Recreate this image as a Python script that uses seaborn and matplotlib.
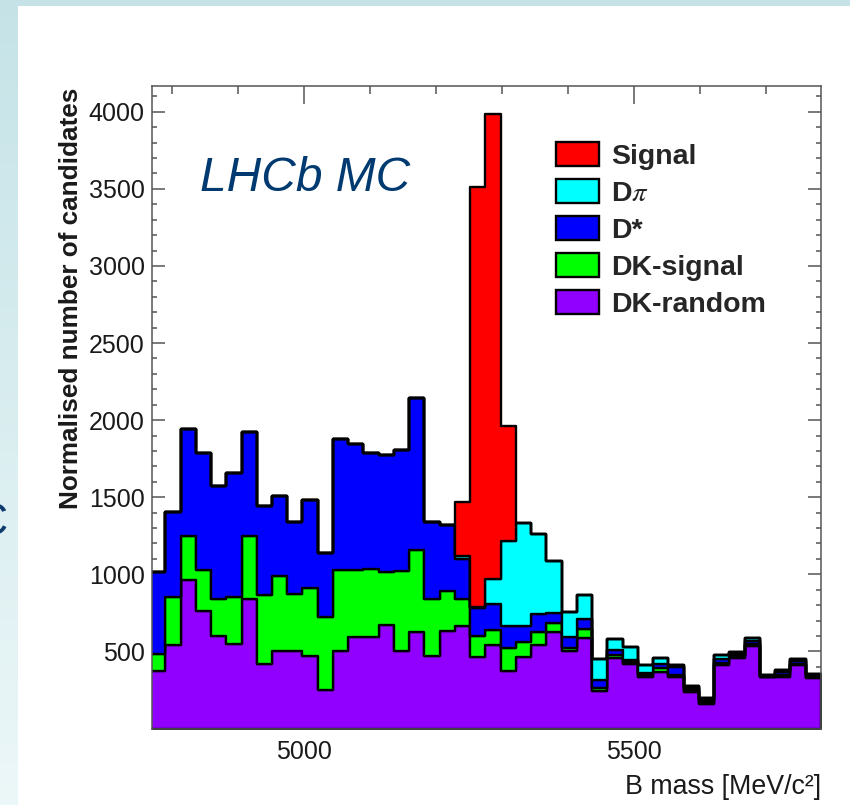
import numpy as np
import pandas as pd
import matplotlib
matplotlib.use("Agg")
import matplotlib.pyplot as plt
from matplotlib.patches import Patch
from matplotlib.ticker import FixedLocator, MultipleLocator
import seaborn as sns

# ---------------------------------------------------------------- data
# B-candidate mass binning (MeV/c^2)
mass_lo = 4767.5
bin_width = 23.07
n_bins = 44
mass_range = (4770.0, 5782.5)

components = ["Signal", "Dπ", "D*", "DK-signal", "DK-random"]
legend_labels = ["Signal", r"D$\pi$", "D*", "DK-signal", "DK-random"]

# per-bin normalised candidate counts of each component
dk_random = [370, 543, 966, 760, 597, 548, 840, 420, 500, 500,
             472, 251, 500, 593, 593, 673, 500, 624, 472, 630,
             667, 466, 539, 375, 466, 539, 628, 503, 590, 245,
             458, 418, 335, 366, 331, 239, 160, 414, 458, 537,
             331, 336, 409, 330]
dk_signal = [113, 308, 281, 266, 243, 305, 407, 448, 487, 373,
             440, 470, 526, 438, 444, 343, 524, 532, 370, 265,
             173, 134, 100, 147, 95, 89, 58, 21, 53, 17,
             16, 12, 11, 24, 13, 11, 12, 11, 9, 13,
             5, 14, 11, 7]
d_star = [530, 554, 697, 762, 736, 805, 678, 574, 520, 467,
          567, 418, 853, 811, 751, 761, 779, 985, 498, 428,
          258, 180, 166, 143, 107, 112, 66, 67, 68, 50,
          35, 13, 14, 26, 55, 15, 14, 23, 18, 20,
          6, 18, 20, 8]
d_pi = [0, 0, 0, 0, 0, 0, 0, 0, 0, 0,
        0, 0, 0, 0, 0, 0, 0, 0, 0, 0,
        23, 6, 163, 554, 668, 523, 333, 167, 155, 136,
        73, 87, 50, 41, 12, 10, 12, 29, 12, 16,
        5, 10, 10, 6]
signal = [0, 0, 0, 0, 0, 0, 0, 0, 0, 0,
          0, 0, 0, 0, 0, 0, 0, 0, 0, 0,
          346, 2723, 3017, 742, 0, 0, 0, 0, 0, 0,
          0, 0, 0, 0, 0, 0, 0, 0, 0, 0,
          0, 0, 0, 0]

colors = ["#ff0000", "#00ffff", "#0000ff", "#00ff00", "#9100ff"]

y_tick_values = [500, 1000, 1500, 2000, 2500, 3000, 3500, 4000]
x_tick_values = [5000, 5500]

# ---------------------------------------------------------------- frame
sns.set_theme(style="ticks")
plt.rcParams["font.family"] = ["Liberation Sans", "DejaVu Sans"]
plt.rcParams["mathtext.fontset"] = "stix"

fig = plt.figure(figsize=(8.5, 8.05), dpi=100, facecolor="white")

# slide background strips
grad_ax = fig.add_axes([0, 0, 18 / 850, 1])
grad = np.linspace(0, 1, 256).reshape(-1, 1)
top_c = np.array([0.773, 0.890, 0.906])
bot_c = np.array([0.925, 0.969, 0.973])
grad_img = top_c + (bot_c - top_c) * grad[..., None]
grad_ax.imshow(grad_img.reshape(256, 1, 3), aspect="auto", extent=[0, 1, 0, 1], origin="upper")
grad_ax.set_axis_off()
top_ax = fig.add_axes([0, 1 - 6 / 805, 1, 6 / 805])
top_ax.set_facecolor("#c5e3e7")
top_ax.set_xticks([])
top_ax.set_yticks([])
for s in top_ax.spines.values():
    s.set_visible(False)
fig.text(-25 / 850, 1 - 535 / 805, "C", fontsize=33, color="#0d3b6e",
         ha="left", va="baseline")

ax = fig.add_axes([151.7 / 850, 1 - 728.5 / 805, 669 / 850, 642.5 / 805])

# ---------------------------------------------------------------- histogram
edges = (mass_lo + bin_width * np.arange(n_bins + 1)).tolist()
centers = [0.5 * (a + b) for a, b in zip(edges[:-1], edges[1:])]
series = [signal, d_pi, d_star, dk_signal, dk_random]
df = pd.DataFrame({
    "mass": np.tile(centers, len(components)),
    "weight": np.concatenate([np.asarray(s, float) for s in series]),
    "component": np.repeat(components, n_bins),
})

sns.histplot(data=df, x="mass", weights="weight", hue="component",
             hue_order=components, palette=dict(zip(components, colors)),
             bins=edges, multiple="stack", element="step", fill=True,
             alpha=1, edgecolor="black", linewidth=1.7, legend=False, ax=ax)

ax.set_xlim(*mass_range)
ax.set_ylim(0, 4167)

# ---------------------------------------------------------------- axes styling
ax.xaxis.set_major_locator(FixedLocator(x_tick_values))
ax.xaxis.set_minor_locator(MultipleLocator(100))
ax.yaxis.set_major_locator(FixedLocator(y_tick_values))
ax.yaxis.set_minor_locator(MultipleLocator(100))
ax.tick_params(axis="both", which="both", direction="in", top=True, right=True,
               color="#555555", width=1.1, labelcolor="#1a1a1a", labelsize=18)
ax.tick_params(axis="x", which="major", length=13, pad=8)
ax.tick_params(axis="x", which="minor", length=5.8)
ax.tick_params(axis="y", which="major", length=9.4, pad=5)
ax.tick_params(axis="y", which="minor", length=3.8)
for s in ax.spines.values():
    s.set_color("#555555")
    s.set_linewidth(1.1)

ax.set_xlabel("B mass [MeV/c²]", fontsize=19.3, color="#1a1a1a", loc="right")
ax.xaxis.set_label_coords(1.0, -0.071)
ax.set_ylabel("Normalised number of candidates", fontsize=18.8,
              fontweight="bold", color="#1a1a1a", loc="top")
ax.yaxis.set_label_coords(-0.1034, 0.997)

ax.text(0.072, 0.837, "LHCb MC", transform=ax.transAxes, fontsize=34.5,
        fontstyle="italic", color="#003a70", ha="left", va="baseline")

handles = [Patch(facecolor=c, edgecolor="black", linewidth=1.7) for c in colors]
ax.legend(handles, legend_labels, loc="upper left",
          bbox_to_anchor=(556 / 850, 1 - 142 / 805), bbox_transform=fig.transFigure,
          frameon=False, borderpad=0, borderaxespad=0,
          prop={"size": 20.5, "weight": "bold"},
          handlelength=1.51, handleheight=0.91, handletextpad=0.42,
          labelspacing=0.33)

fig.savefig("out.png", dpi=100, facecolor="white")
